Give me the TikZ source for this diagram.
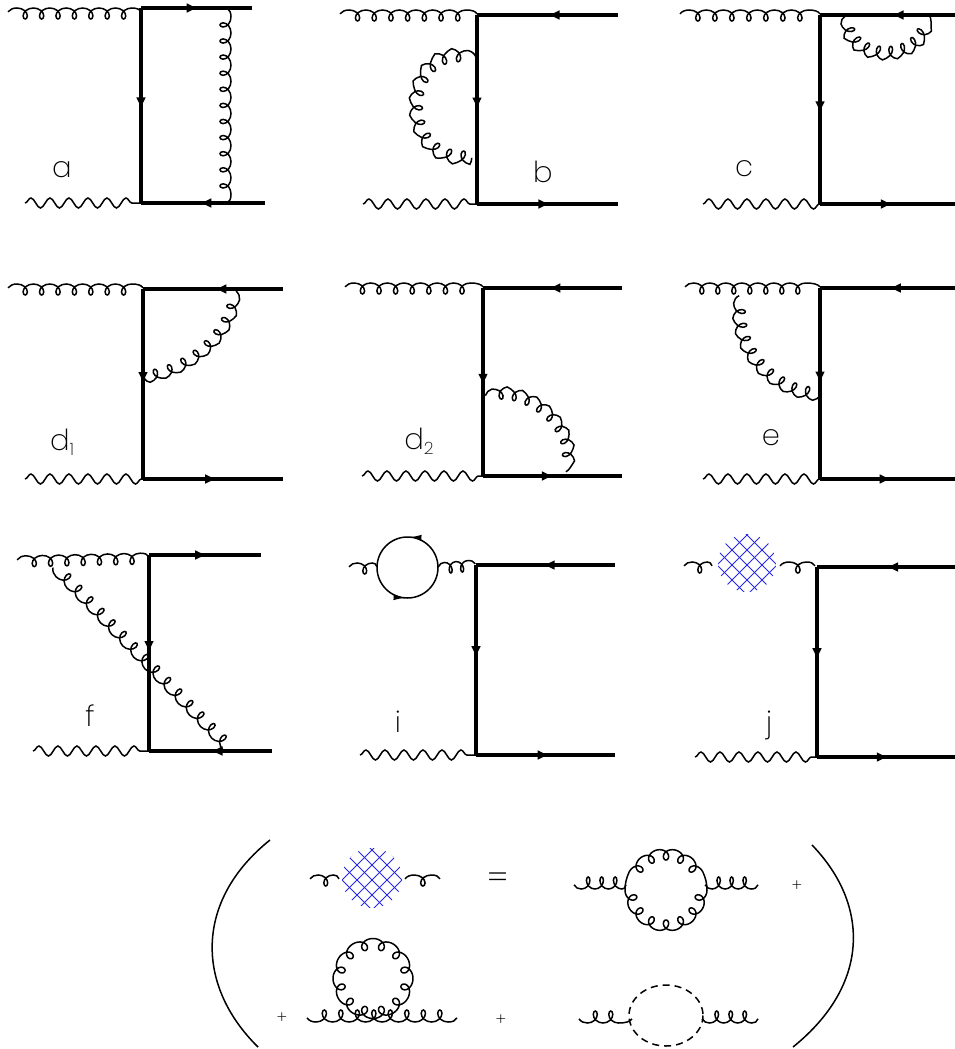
\documentclass[tikz,border=0pt]{standalone}
\usepackage{fontspec}
\setmainfont{Poppins ExtraLight}
\usepackage{xcolor}
\usetikzlibrary{arrows.meta,decorations.pathmorphing,decorations.markings}
\definecolor{hatchblue}{RGB}{40,40,230}

% lead-in arc, periods of crest and narrow loop, tail arc
\def\glpt#1#2{\pgfpoint{#1\pgfdecorationsegmentlength}{#2\pgfdecorationsegmentamplitude}}
\pgfdeclaredecoration{gluonline}{lead}{
  \state{lead}[width=0.55\pgfdecorationsegmentlength, next state=curl]{
    \pgfpathmoveto{\glpt{0}{0.35}}
    \pgfpathcurveto{\glpt{0.12}{0.1}}{\glpt{0.33}{0}}{\glpt{0.55}{0}}
  }
  \state{curl}[switch if less than=\pgfdecorationsegmentlength to tail, width=\pgfdecorationsegmentlength]{
    \pgfpathcurveto{\glpt{0.35}{0}}{\glpt{0.63}{0.35}}{\glpt{0.63}{0.72}}
    \pgfpathcurveto{\glpt{0.63}{0.92}}{\glpt{0.55}{1}}{\glpt{0.5}{1}}
    \pgfpathcurveto{\glpt{0.45}{1}}{\glpt{0.37}{0.92}}{\glpt{0.37}{0.72}}
    \pgfpathcurveto{\glpt{0.37}{0.35}}{\glpt{0.65}{0}}{\glpt{1}{0}}
  }
  \state{tail}[width=\pgfdecoratedremainingdistance, next state=final]{
    \pgfpathcurveto
      {\pgfpoint{0.5\pgfdecoratedremainingdistance}{0pt}}
      {\pgfpoint{0.85\pgfdecoratedremainingdistance}{0.1\pgfdecorationsegmentamplitude}}
      {\pgfpoint{\pgfdecoratedremainingdistance}{0.35\pgfdecorationsegmentamplitude}}
  }
  \state{final}{}
}
% centre x, centre y, radius, middle angle, half span, loops per turn, swing
\newcommand{\gluonring}[7]{
  \draw[line width=1.5pt, line join=round] plot[domain=-#5:#5, samples=480]
    ({#1+(#3-11*(1+cos(#6*\x))/2)*cos(#4+\x-#7*sin(#6*\x))},
     {#2+(#3-11*(1+cos(#6*\x))/2)*sin(#4+\x-#7*sin(#6*\x))});
}

\begin{document}
\begin{tikzpicture}[
  x=1pt, y=-1pt,
  font=\fontsize{29}{30}\selectfont,
  fermion/.style={line width=3.6pt},
  gluon/.style={line width=1.5pt, decorate, decoration={gluonline, segment length=#1pt, amplitude=-11pt}},
  gluon/.default=16.4,
  gluonup/.style={line width=1.5pt, decorate, decoration={gluonline, segment length=#1pt, amplitude=12pt}},
  gluonup/.default=14,
  photon/.style={line width=1.5pt, decorate, decoration={snake, segment length=19pt, amplitude=5pt}},
  tipfwd/.style={postaction={decorate, decoration={markings, mark=at position #1 with {\arrow{Latex[length=12pt,width=10pt]}}}}},
  tipbwd/.style={postaction={decorate, decoration={markings, mark=at position #1 with {\arrowreversed{Latex[length=12pt,width=10pt]}}}}},
  thintip/.style={postaction={decorate, decoration={markings, mark=at position #1 with {\arrowreversed{Latex[length=12pt,width=6pt]}}}}},
  label/.style={inner sep=0pt, anchor=base},
  small/.style={inner sep=0pt, font=\fontsize{17}{17}\selectfont}
]
\useasboundingbox (0,0) rectangle (955,1049);

% diagram a
\coordinate (aG) at (8,8); \coordinate (aH) at (141,8); \coordinate (aP) at (25,203);
\coordinate (aT) at (141,8); \coordinate (aB) at (141,203);
\coordinate (aR) at (252,8); \coordinate (aS) at (265,203);
\coordinate (aU) at (231,8); \coordinate (aV) at (231,203);
\draw[gluon] (aG) -- (aH);
\draw[photon] (aP) -- (aB);
\draw[fermion, tipfwd=0.52] (aT) -- (aR);
\draw[fermion, tipfwd=0.52] (aT) -- (aB);
\draw[fermion, tipbwd=0.47] (aB) -- (aS);
\draw[gluon=16.1] (aU) -- (aV);
\node[label] (la) at (62,177) {a};

% diagram b
\coordinate (bG) at (340,10); \coordinate (bH) at (477,10); \coordinate (bP) at (363,204);
\coordinate (bT) at (477,15); \coordinate (bB) at (477,204);
\coordinate (bR) at (618,15); \coordinate (bS) at (618,204);
\coordinate (bU) at (477,53); \coordinate (bV) at (472,162);
\draw[gluon=16.7] (bG) -- (bH);
\draw[photon] (bP) -- (bB);
\draw[fermion, tipbwd=0.5] (bT) -- (bR);
\draw[fermion, tipfwd=0.5] (bT) -- (bB);
\draw[fermion, tipfwd=0.52] (bB) -- (bS);
\draw[gluonup=16.7] (bU) .. controls (395,30) and (385,170) .. (bV);
\node[label] (lb) at (543,182) {b};

% diagram c
\coordinate (cG) at (680,10); \coordinate (cH) at (820,10); \coordinate (cP) at (703,204);
\coordinate (cT) at (820,15); \coordinate (cB) at (820,204);
\coordinate (cR) at (955,15); \coordinate (cS) at (955,204);
\coordinate (cU) at (841,16); \coordinate (cV) at (931,16);
\draw[gluon=17] (cG) -- (cH);
\draw[photon] (cP) -- (cB);
\draw[fermion, tipbwd=0.53] (cT) -- (cR);
\draw[fermion, tipfwd=0.52] (cT) -- (cB);
\draw[fermion, tipfwd=0.54] (cB) -- (cS);
\draw[gluonup=14.5] (cU) .. controls (841,72) and (931,72) .. (cV);
\node[label] (lc) at (744,176) {c};

% diagram d1
\coordinate (dG) at (8,284); \coordinate (dH) at (143,284); \coordinate (dP) at (25,479);
\coordinate (dT) at (143,289); \coordinate (dB) at (143,479);
\coordinate (dR) at (283,289); \coordinate (dS) at (283,479);
\coordinate (dU) at (240,291); \coordinate (dV) at (145,382);
\draw[gluon=16.4] (dG) -- (dH);
\draw[photon] (dP) -- (dB);
\draw[fermion, tipbwd=0.51] (dT) -- (dR);
\draw[fermion, tipfwd=0.5] (dT) -- (dB);
\draw[fermion, tipfwd=0.53] (dB) -- (dS);
\draw[gluon=16] (dU) .. controls (238,335) and (195,375) .. (dV);
\node[label] (ld) at (62,450) {d\raisebox{-5pt}{\fontsize{17}{17}\selectfont 1}};

% diagram d2
\coordinate (eG) at (345,283); \coordinate (eH) at (483,283); \coordinate (eP) at (362,476);
\coordinate (eT) at (483,288); \coordinate (eB) at (483,476);
\coordinate (eR) at (622,288); \coordinate (eS) at (622,476);
\coordinate (eU) at (484,392); \coordinate (eV) at (568,472);
\draw[gluon=16.6] (eG) -- (eH);
\draw[photon] (eP) -- (eB);
\draw[fermion, tipbwd=0.47] (eT) -- (eR);
\draw[fermion, tipfwd=0.52] (eT) -- (eB);
\draw[fermion, tipfwd=0.51] (eB) -- (eS);
\draw[gluon=15.3] (eU) .. controls (530,375) and (590,430) .. (eV);
\node[label] (le) at (419,449) {d\raisebox{-5pt}{\fontsize{17}{17}\selectfont 2}};

% diagram e
\coordinate (fG) at (685,283); \coordinate (fH) at (820,283); \coordinate (fP) at (703,479);
\coordinate (fT) at (820,288); \coordinate (fB) at (820,479);
\coordinate (fR) at (955,288); \coordinate (fS) at (955,479);
\coordinate (fU) at (735,295); \coordinate (fV) at (820,399);
\draw[gluon=16] (fG) -- (fH);
\draw[photon] (fP) -- (fB);
\draw[fermion, tipbwd=0.51] (fT) -- (fR);
\draw[fermion, tipfwd=0.5] (fT) -- (fB);
\draw[fermion, tipfwd=0.53] (fB) -- (fS);
\draw[gluonup=15.2] (fU) .. controls (725,355) and (775,400) .. (fV);
\node[label] (lf) at (771,445) {e};

% diagram f
\coordinate (gG) at (17,556); \coordinate (gH) at (149,553); \coordinate (gP) at (33,751);
\coordinate (gT) at (149,555); \coordinate (gB) at (149,751);
\coordinate (gR) at (261,555); \coordinate (gS) at (272,751);
\coordinate (gU) at (50,570.5); \coordinate (gV) at (227,754);
\draw[gluon=16.3] (gG) -- (gH);
\draw[photon] (gP) -- (gB);
\draw[fermion, tipfwd=0.52] (gT) -- (gR);
\draw[fermion, tipfwd=0.5] (gT) -- (gB);
\draw[fermion, tipbwd=0.5] (gB) -- (gS);
\draw[gluonup=16] (gU) -- (gV);
\node[label] (lg) at (90,726) {f};

% diagram i
\coordinate (hG) at (349,563); \coordinate (hL) at (377,563);
\coordinate (hM) at (438,563); \coordinate (hN) at (475,560);
\coordinate (hT) at (476,565); \coordinate (hP) at (360,755); \coordinate (hB) at (476,755);
\coordinate (hR) at (615,565); \coordinate (hS) at (615,755);
\draw[gluon=15] (hG) -- (hL);
\draw[gluon=11.5] (hM) -- (hN);
\draw[line width=1.5pt, thintip=0.26, thintip=0.76] (407.5,567.5) circle[radius=30.5];
\draw[photon] (hP) -- (hB);
\draw[fermion, tipbwd=0.48] (hT) -- (hR);
\draw[fermion, tipfwd=0.49] (hT) -- (hB);
\draw[fermion, tipfwd=0.53] (hB) -- (hS);
\node[label] (li) at (398,732) {i};

% diagram j
\coordinate (jG) at (684,562); \coordinate (jL) at (712,562);
\coordinate (jM) at (780,562); \coordinate (jN) at (815,562); \coordinate (jT) at (817,567);
\coordinate (jP) at (695,757); \coordinate (jB) at (817,757);
\coordinate (jR) at (955,567); \coordinate (jS) at (955,757);
\draw[gluon=15] (jG) -- (jL);
\draw[gluon=17] (jM) -- (jN);
\begin{scope}
  \clip (747,563) circle[radius=29];
  \foreach \s in {-6,...,6} {
    \draw[hatchblue, line width=0.9pt] (747+\s*15,520) -- ++(50,50) -- ++(50,50);
    \draw[hatchblue, line width=0.9pt] (747+\s*15,520) -- ++(-50,50) -- ++(-50,50);
  }
\end{scope}
\draw[photon] (jP) -- (jB);
\draw[fermion, tipbwd=0.5] (jT) -- (jR);
\draw[fermion, tipfwd=0.49] (jT) -- (jB);
\draw[fermion, tipfwd=0.52] (jB) -- (jS);
\node[label] (lj) at (769,732) {j};

% self energy
\draw[line width=1.5pt] (270,840) .. controls (195,900) and (195,985) .. (258,1047);
\draw[line width=1.5pt] (812,845) .. controls (870,905) and (870,985) .. (793,1047);

\coordinate (kG) at (310,875); \coordinate (kL) at (339,875);
\coordinate (kM) at (405,875); \coordinate (kT) at (440,875);
\draw[gluon=15] (kG) -- (kL);
\draw[gluon=17] (kM) -- (kT);
\begin{scope}
  \clip (372,878) circle[radius=30];
  \foreach \s in {-6,...,6} {
    \draw[hatchblue, line width=0.9pt] (372+\s*15,835) -- ++(50,50) -- ++(50,50);
    \draw[hatchblue, line width=0.9pt] (372+\s*15,835) -- ++(-50,50) -- ++(-50,50);
  }
\end{scope}
\node[small, font=\fontsize{34}{34}\selectfont] (eq) at (498,881) {=};

\coordinate (mA) at (574,889); \coordinate (mB) at (626,889);
\coordinate (mC) at (705,889); \coordinate (mD) at (758,889);
\draw[gluonup=13.5] (mA) -- (mB);
\draw[gluonup=13] (mC) -- (mD);
\gluonring{666}{890}{41}{270}{64.3}{14}{10}
\gluonring{666}{890}{41}{90}{90}{14}{10}
\draw[line width=1.5pt] (625,890) arc[start angle=180, end angle=205.7, radius=41];
\draw[line width=1.5pt] (707,890) arc[start angle=360, end angle=334.3, radius=41];
\node[small] (p1) at (797,886) {+};

\node[small] (p2) at (282,1018) {+};
\coordinate (nA) at (307,1022); \coordinate (nB) at (457,1022);
\draw[gluonup=16.5] (nA) -- (nB);
\gluonring{373}{978.5}{40}{285}{180}{12}{11.5}

\node[small] (p3) at (501,1020) {+};
\coordinate (qA) at (579,1023); \coordinate (qB) at (632,1023);
\coordinate (qC) at (702,1023); \coordinate (qD) at (758,1023);
\draw[gluonup=15.5] (qA) -- (qB);
\draw[gluonup] (qC) -- (qD);
\draw[line width=1.5pt, dashed, dash pattern=on 7pt off 5pt] (666,1015.5) circle[x radius=37, y radius=30.5];
\end{tikzpicture}
\end{document}
